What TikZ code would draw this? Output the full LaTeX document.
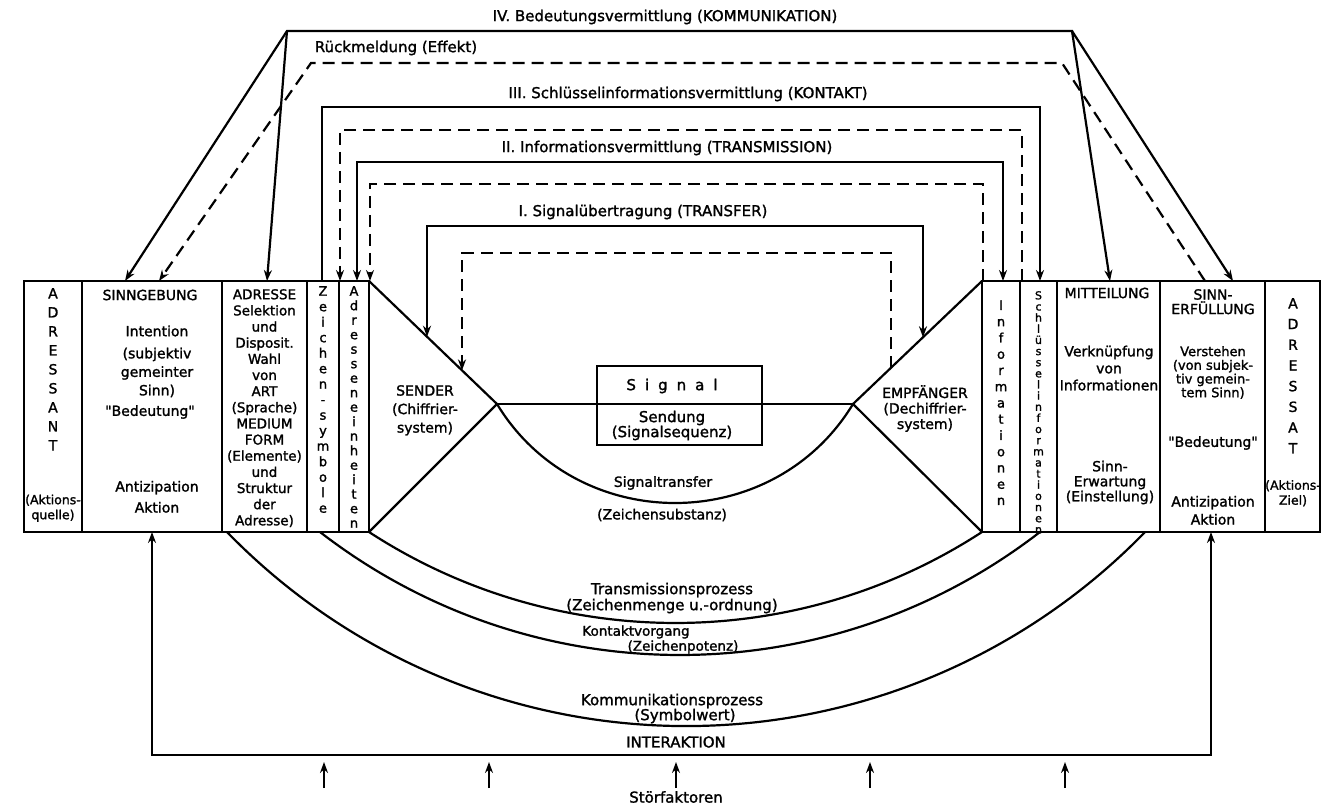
\documentclass[tikz,border=0pt]{standalone}
\usepackage{fontspec}
\setmainfont{DejaVu Sans}[FakeBold=1.5]
\usetikzlibrary{arrows.meta}
\begin{document}
\begin{tikzpicture}[x=1pt,y=-1pt,
  ln/.style={line width=2.2pt, line join=miter},
  dsh/.style={ln, dash pattern=on 12pt off 7pt},
  tip/.style={-{Stealth[length=11pt,width=8pt]}},
  tips2/.style={{Stealth[length=11pt,width=8pt]}-{Stealth[length=11pt,width=8pt]}},
  col/.style={draw, line width=2.2pt, inner sep=0, outer sep=0, anchor=north west, minimum height=251pt},
  t/.style={inner sep=0, align=center, font={\fontsize{14}{#1}\selectfont\lineskiplimit=-40pt\lineskip=0pt}},
  t/.default=16,
  vs/.style 2 args={inner sep=0, anchor=north, align=center, font={\fontsize{#1}{#2}\selectfont\lineskiplimit=-40pt\lineskip=0pt}},
  lab/.style={inner sep=0, font=\fontsize{15}{17}\selectfont}
]
\fill[white] (0,0) rectangle (1323,805);
\useasboundingbox (0,0) rectangle (1323,805);

% ---------- columns ----------
\node[col, minimum width=58pt]  (cAdressant) at (24,281) {};
\node[col, minimum width=140pt] (cSinn)      at (82,281) {};
\node[col, minimum width=85pt]  (cAdresse)   at (222,281) {};
\node[col, minimum width=32pt]  (cZeichen)   at (307,281) {};
\node[col, minimum width=30pt]  (cEinh)      at (339,281) {};
\node[col, minimum width=38pt]  (cInfo)      at (982,281) {};
\node[col, minimum width=37pt]  (cSchl)      at (1020,281) {};
\node[col, minimum width=103pt] (cMitt)      at (1057,281) {};
\node[col, minimum width=105pt] (cErf)       at (1160,281) {};
\node[col, minimum width=55pt]  (cAdressat)  at (1265,281) {};

% ---------- funnel ----------
\coordinate (TLc) at (369,281);
\coordinate (BLc) at (369,532);
\coordinate (apL) at (497,404);
\coordinate (apR) at (853,404);
\coordinate (TRc) at (982,281);
\coordinate (BRc) at (982,532);
\draw[ln] (TLc) -- (apL) -- (BLc);
\draw[ln] (TRc) -- (apR) -- (BRc);
\draw[ln] (apL) -- (apR);
\draw[ln] (apL) .. controls (577,536) and (773,536) .. (apR);
\node[draw, line width=2.2pt, minimum width=165pt, minimum height=79pt, inner sep=0] (signal) at (679.5,405.5) {};

% ---------- bottom arcs ----------
\draw[ln] (BLc) arc[start angle=123.07, end angle=56.93, radius=561.7];
\coordinate (kL) at (320,532);
\draw[ln] (kL) arc[start angle=127.73, end angle=52.27, radius=588.3];
\coordinate (mL) at (227,532);
\draw[ln] (mL) arc[start angle=135.83, end angle=44.17, radius=640];

% ---------- IV ----------
\coordinate (IVl) at (287,31);
\coordinate (IVr) at (1072,31);
\coordinate (aSinn) at (125,281);
\coordinate (aAdr) at (267,281);
\coordinate (aMitt) at (1110,281);
\coordinate (aErf) at (1233,281);
\draw[ln, tips2] (aSinn) -- (IVl) -- (IVr) -- (aMitt);
\draw[ln, tip] (IVl) -- (aAdr);
\draw[ln, tip] (IVr) -- (aErf);

% ---------- Rueckmeldung ----------
\coordinate (rR) at (1205,281);
\coordinate (rRc) at (1062,63);
\coordinate (rLc) at (311,63);
\coordinate (rL) at (159,281);
\draw[dsh, tip] (rR) -- (rRc) -- (rLc) -- (rL);

% ---------- III ----------
\coordinate (s3L) at (322,281);
\coordinate (s3Lc) at (322,107);
\coordinate (s3Rc) at (1040,107);
\coordinate (s3R) at (1040,281);
\draw[ln, tip] (s3L) -- (s3Lc) -- (s3Rc) -- (s3R);
\coordinate (d3R) at (1022,281);
\coordinate (d3Rc) at (1022,130);
\coordinate (d3Lc) at (340,130);
\coordinate (d3L) at (340,281);
\draw[dsh, tip] (d3R) -- (d3Rc) -- (d3Lc) -- (d3L);

% ---------- II ----------
\coordinate (s2L) at (357,281);
\coordinate (s2Lc) at (357,162);
\coordinate (s2Rc) at (1003,162);
\coordinate (s2R) at (1003,281);
\draw[ln, tips2] (s2L) -- (s2Lc) -- (s2Rc) -- (s2R);
\coordinate (d2R) at (983,281);
\coordinate (d2Rc) at (983,184);
\coordinate (d2Lc) at (370,184);
\coordinate (d2L) at (370,281);
\draw[dsh, tip] (d2R) -- (d2Rc) -- (d2Lc) -- (d2L);

% ---------- I ----------
\coordinate (s1L) at (427,336.7);
\coordinate (s1Lc) at (427,226);
\coordinate (s1Rc) at (923,226);
\coordinate (s1R) at (923,337.3);
\draw[ln, tips2] (s1L) -- (s1Lc) -- (s1Rc) -- (s1R);
\coordinate (d1R) at (891,367.8);
\coordinate (d1Rc) at (891,253);
\coordinate (d1Lc) at (462,253);
\coordinate (d1L) at (462,370.4);
\draw[dsh, tip] (d1R) -- (d1Rc) -- (d1Lc) -- (d1L);

% ---------- Interaktion ----------
\coordinate (iL) at (152,532);
\coordinate (iLb) at (152,755);
\coordinate (iRb) at (1211,755);
\coordinate (iR) at (1211,532);
\draw[ln, tips2] (iL) -- (iLb) -- (iRb) -- (iR);

\foreach \x [count=\i] in {324,489,676,870,1065} {
  \coordinate (sb\i) at (\x,788);
  \coordinate (st\i) at (\x,762);
  \draw[ln, line width=1.8pt, tip] (sb\i) -- (st\i);
}

% ---------- top labels ----------
\node[lab] (lIV) at (665,17) {IV. Bedeutungsvermittlung (KOMMUNIKATION)};
\node[lab] (lR) at (396,48) {Rückmeldung (Effekt)};
\node[lab] (lIII) at (688,94) {III. Schlüsselinformationsvermittlung (KONTAKT)};
\node[lab] (lII) at (667,148) {II. Informationsvermittlung (TRANSMISSION)};
\node[lab] (lI) at (643,212) {I. Signalübertragung (TRANSFER)};

% ---------- left column texts ----------
\node[vs={14}{19}] (tAdressant) at (53,288) {A\\D\\R\\E\\S\\S\\A\\N\\T};
\node[inner sep=0, align=center, anchor=north, font=\fontsize{12.5}{15}\selectfont] (tAq) at (53,494.5) {(Aktions-\\quelle)};

\node[t] (tSG) at (150,295) {SINNGEBUNG};
\node[t] (tInt) at (157,331) {Intention};
\node[t=18.5, anchor=north] (tSub) at (157,347.5) {(subjektiv\\gemeinter\\Sinn)};
\node[t] (tBed) at (150,412) {\textquotedbl Bedeutung\textquotedbl};
\node[t=21, anchor=north] (tAnt) at (157,480.7) {Antizipation\\Aktion};

\node[inner sep=0, align=center, anchor=north, font={\fontsize{13.5}{16.15}\selectfont\lineskiplimit=-40pt\lineskip=0pt}] (tAdr) at (264.5,289)
  {ADRESSE\\Selektion\\und\\Disposit.\\Wahl\\von\\ART\\(Sprache)\\MEDIUM\\FORM\\(Elemente)\\und\\Struktur\\der\\Adresse)};

\node[vs={13}{15.5}] (tZS) at (323,286) {Z\\e\\i\\c\\h\\e\\n\\-\\s\\y\\m\\b\\o\\l\\e};
\node[vs={13}{14.5}] (tAE) at (354,286) {A\\d\\r\\e\\s\\s\\e\\n\\e\\i\\n\\h\\e\\i\\t\\e\\n};

% ---------- right column texts ----------
\node[vs={13}{16.25}] (tInf) at (1001,300.3) {I\\n\\f\\o\\r\\m\\a\\t\\i\\o\\n\\e\\n};
\node[vs={11}{11.14}] (tSchl) at (1038.5,291) {S\\c\\h\\l\\ü\\s\\s\\e\\l\\i\\n\\f\\o\\r\\m\\a\\t\\i\\o\\n\\e\\n};

\node[t] (tMit) at (1107,293) {MITTEILUNG};
\node[t=17, anchor=north] (tVer) at (1109,345.5) {Verknüpfung\\von\\Informationen};
\node[t=15, anchor=north] (tSE) at (1110,460.5) {Sinn-\\Erwartung\\(Einstellung)};

\node[t=14.5, anchor=north] (tSEr) at (1213,289) {SINN-\\ERFÜLLUNG};
\node[inner sep=0, align=center, anchor=north, font={\fontsize{13}{13.7}\selectfont\lineskiplimit=-40pt\lineskip=0pt}] (tVst) at (1213,346) {Verstehen\\(von subjek-\\tiv gemein-\\tem Sinn)};
\node[t] (tBed2) at (1213,443) {\textquotedbl Bedeutung\textquotedbl};
\node[t=18, anchor=north] (tAnt2) at (1213,495.7) {Antizipation\\Aktion};

\node[vs={14}{20.7}] (tAdt) at (1293,298) {A\\D\\R\\E\\S\\S\\A\\T};
\node[inner sep=0, align=center, anchor=north, font=\fontsize{12.5}{15}\selectfont] (tAz) at (1293,480) {(Aktions-\\Ziel)};

% ---------- center texts ----------
\node[t=18.5, anchor=north] (tSender) at (425,385) {SENDER\\(Chiffrier-\\system)};
\node[t=15.5, anchor=north] (tEmpf) at (925,385) {EMPFÄNGER\\(Dechiffrier-\\system)};
\node[inner sep=0, font=\fontsize{15}{16}\selectfont] (tSig) at (672,386) {S\hspace{9pt}i\hspace{9pt}g\hspace{9pt}n\hspace{9pt}a\hspace{9pt}l};
\node[inner sep=0, align=center, anchor=north, font=\fontsize{15}{15}\selectfont] (tSend) at (672,410.5) {Sendung\\(Signalsequenz)};
\node[t] (tST) at (663,483) {Signaltransfer};
\node[t] (tZS2) at (662,515) {(Zeichensubstanz)};

% ---------- bottom labels ----------
\node[lab] (tTP) at (672,590) {Transmissionsprozess};
\node[lab] (tTP2) at (672,606) {(Zeichenmenge u.-ordnung)};
\node[lab, font=\fontsize{13.5}{15}\selectfont] (tKV) at (636,632) {Kontaktvorgang};
\node[lab, font=\fontsize{13.5}{15}\selectfont] (tKV2) at (683,647) {(Zeichenpotenz)};
\node[lab] (tKP) at (672,701) {Kommunikationsprozess};
\node[lab] (tKP2) at (685,716) {(Symbolwert)};
\node[lab] (tIA) at (676,742) {INTERAKTION};
\node[lab] (tSF) at (676,797) {Störfaktoren};
\end{tikzpicture}
\end{document}
